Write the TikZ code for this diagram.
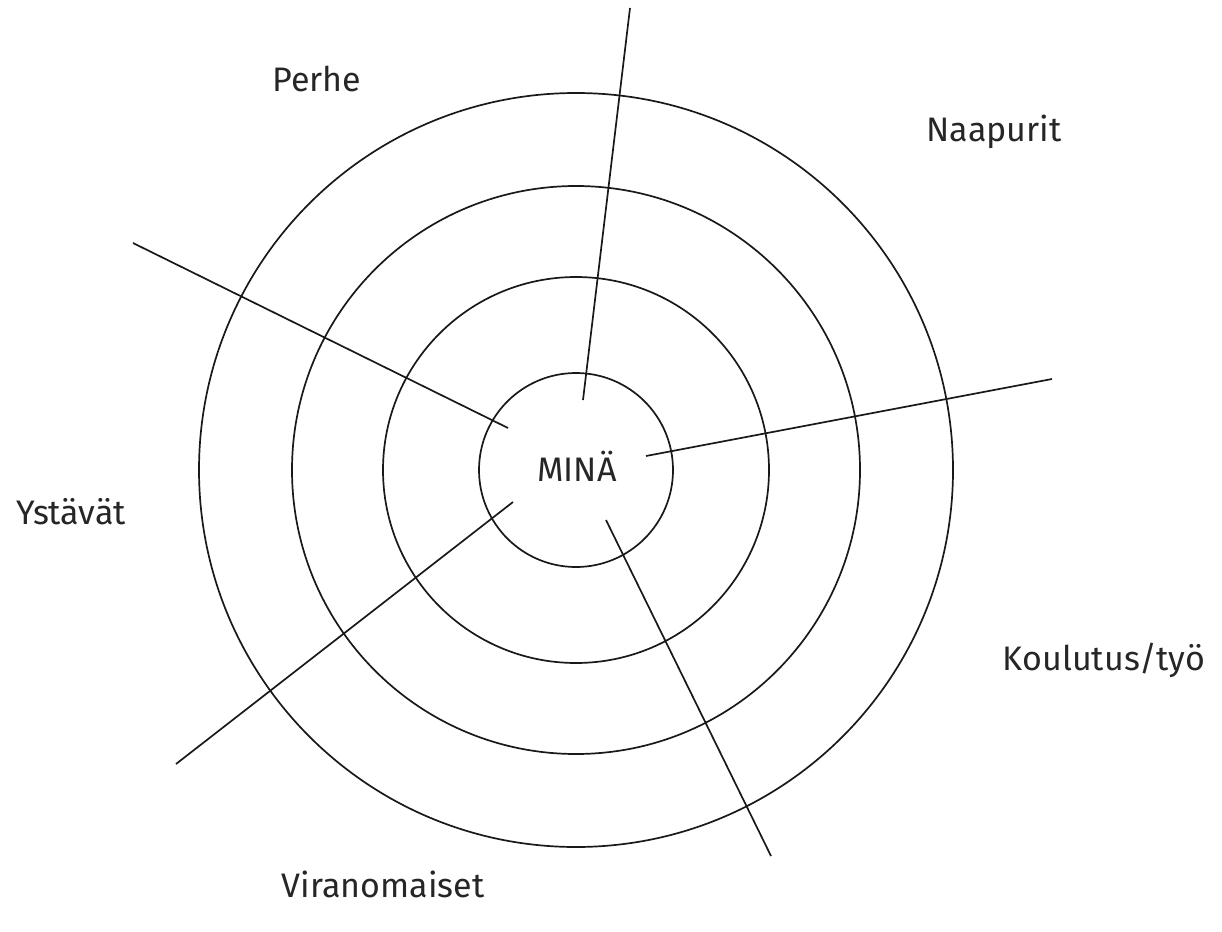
\documentclass[tikz,border=0pt]{standalone}
\usepackage{fontspec}
\setmainfont{Fira Sans}
\begin{document}
\begin{tikzpicture}[x=1pt,y=-1pt,
  ring/.style={draw=black!90,line width=1.7pt},
  spoke/.style={draw=black!90,line width=1.7pt},
  lbl/.style={anchor=base,inner sep=0pt,font=\fontsize{34}{40}\selectfont,text=black!85}]
\useasboundingbox (0,0) rectangle (1222,931);
\coordinate (c) at (576,470);
\draw[ring] (c) circle[radius=97];
\draw[ring] (c) circle[radius=193];
\draw[ring] (c) circle[radius=284];
\draw[ring] (c) circle[radius=377];
\coordinate (a1) at (583,400); \coordinate (b1) at (630,8);
\coordinate (a2) at (508,428); \coordinate (b2) at (133,243);
\coordinate (a3) at (646,456); \coordinate (b3) at (1052,379);
\coordinate (a4) at (513,502); \coordinate (b4) at (176,764);
\coordinate (a5) at (606,520); \coordinate (b5) at (771,856);
\draw[spoke] (a1) -- (b1);
\draw[spoke] (a2) -- (b2);
\draw[spoke] (a3) -- (b3);
\draw[spoke] (a4) -- (b4);
\draw[spoke] (a5) -- (b5);
\node[lbl] (mina) at (577,481) {MINÄ};
\node[lbl] (perhe) at (317,92) {Perhe};
\node[lbl] (naapurit) at (994,141) {Naapurit};
\node[lbl] (ystavat) at (71,524) {Ystävät};
\node[lbl] (koulutus) at (1104,670) {Koulutus/työ};
\node[lbl] (viran) at (383,897) {Viranomaiset};
\end{tikzpicture}
\end{document}
